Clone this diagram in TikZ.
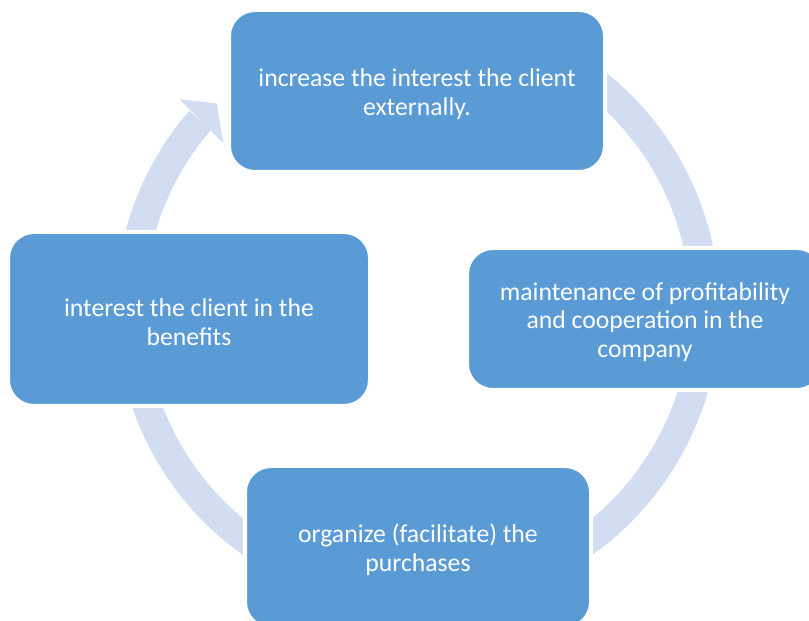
\documentclass[tikz,border=0pt]{standalone}
\usepackage{fontspec}
\setmainfont{Carlito}
\definecolor{boxblue}{RGB}{91,155,213}
\definecolor{ringblue}{RGB}{209,221,240}
\newcommand{\toplift}{\rule{0pt}{24pt}}
\begin{document}
\begin{tikzpicture}[x=1pt,y=1pt,
  stagebox/.style={rectangle, rounded corners=26pt, fill=boxblue, draw=white,
    line width=4pt, inner sep=0pt, align=center, text=white,
    font=\fontsize{25.7}{28.5}\selectfont},
  ringline/.style={ringblue, line width=29pt},
]
\useasboundingbox (0,0) rectangle (809,621);
\clip (0,0) rectangle (809,621);
\coordinate (c) at (417.5,312.5);
% ring behind the boxes
\draw[ringline] ([shift={(55:287.5pt)}]c) arc[start angle=55, end angle=-220.9, radius=287.5pt];
\fill[ringblue] ([shift={(138.7:317pt)}]c) -- ([shift={(134.4:287pt)}]c) -- ([shift={(139.6:255pt)}]c) -- cycle;
% boxes
\node[stagebox, minimum width=376pt, minimum height=162pt] (n1) at (417,530) {\toplift increase the interest the client\\externally.};
\node[stagebox, minimum width=356pt, minimum height=142pt] (n2) at (645,302) {\toplift maintenance of profitability\\and cooperation in the\\company};
\node[stagebox, minimum width=346pt, minimum height=162pt] (n3) at (418,74) {\toplift organize (facilitate) the\\purchases};
\node[stagebox, minimum width=362pt, minimum height=174pt] (n4) at (189,302) {\toplift interest the client in the\\benefits};
\end{tikzpicture}
\end{document}
